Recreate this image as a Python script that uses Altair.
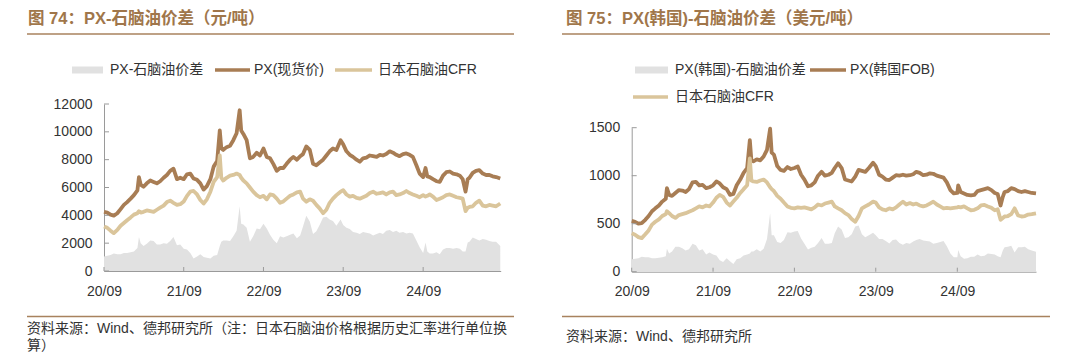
import altair as alt
import pandas as pd

# ---------------- data ----------------
dates_l = [
    "2020-09-01", "2020-09-16", "2020-10-01", "2020-10-16", "2020-11-01", "2020-11-16", "2020-12-01", "2020-12-16",
    "2021-01-01", "2021-01-16", "2021-02-01", "2021-02-08", "2021-02-16", "2021-03-01", "2021-03-16", "2021-04-01",
    "2021-04-16", "2021-05-01", "2021-05-16", "2021-06-01", "2021-06-16", "2021-07-01", "2021-07-16", "2021-08-01",
    "2021-08-16", "2021-09-01", "2021-09-16", "2021-10-01", "2021-10-16", "2021-11-01", "2021-11-16", "2021-12-01",
    "2021-12-16",
    "2022-01-01", "2022-01-16", "2022-02-01", "2022-02-13", "2022-02-20", "2022-03-01", "2022-03-16", "2022-04-01",
    "2022-04-16", "2022-05-01", "2022-05-15", "2022-05-22", "2022-06-01", "2022-06-16", "2022-07-01", "2022-07-16",
    "2022-08-01", "2022-08-16", "2022-09-01", "2022-09-16", "2022-10-01", "2022-10-16", "2022-11-01", "2022-11-16",
    "2022-12-01", "2022-12-16",
    "2023-01-01", "2023-01-16", "2023-02-01", "2023-02-16", "2023-03-01", "2023-03-16", "2023-04-01", "2023-04-16",
    "2023-05-01", "2023-05-16", "2023-06-01", "2023-06-16", "2023-07-01", "2023-07-16", "2023-08-01", "2023-08-20",
    "2023-09-01", "2023-09-16", "2023-10-01", "2023-10-16", "2023-11-01", "2023-11-16", "2023-12-01", "2023-12-16",
    "2024-01-01", "2024-01-16", "2024-02-01", "2024-02-16", "2024-03-01", "2024-03-16", "2024-04-01", "2024-04-16",
    "2024-05-01", "2024-05-16", "2024-06-01", "2024-06-16", "2024-07-01", "2024-07-16", "2024-08-01", "2024-08-16",
    "2024-09-01", "2024-09-12", "2024-09-20", "2024-10-01", "2024-10-16", "2024-11-01", "2024-11-16", "2024-12-01",
    "2024-12-16",
    "2025-01-01", "2025-01-16", "2025-02-01", "2025-02-16", "2025-03-01", "2025-03-14", "2025-03-24", "2025-04-01",
    "2025-04-16", "2025-05-01", "2025-05-16", "2025-06-01", "2025-06-16", "2025-07-01", "2025-07-16", "2025-08-01",
    "2025-08-20",
]
px_l = [
    4250, 4200, 4050, 3980, 4150, 4450, 4750, 4950,
    5200, 5450, 5800, 6750, 6200, 6050, 6300, 6500,
    6400, 6300, 6450, 6700, 6900, 7200, 7350, 6600,
    6700, 6600, 6950, 7000, 6650, 6550, 6300, 5850,
    6100,
    6600, 7500, 7900, 10100, 8800, 8700, 8900, 9000,
    9400, 9900, 11550, 10100, 9850, 9400, 8100, 8200,
    8500, 8300, 8800, 8200, 8100, 7700, 7200, 7400,
    7400, 7700,
    8000, 8200, 8000, 8250, 8400, 8950, 8700, 7700,
    7600, 7800, 8000, 8300, 8600, 8800, 8700, 9400,
    9100, 8600, 8350, 8200, 8000, 7850, 8100, 8150,
    8300, 8250, 8200, 8350, 8300, 8400, 8600, 8500,
    8350, 8250, 8400, 8450, 8350, 8200, 7600, 7000,
    6750, 7400, 6800, 6750, 6600, 6450, 6400, 6850,
    7100,
    7150, 7000, 6950, 6850, 6600, 5700, 6600, 6700,
    7050, 7200, 7250, 7000, 6900, 6900, 6800, 6750,
    6650,
]
nap_l = [
    3200, 3100, 2900, 2720, 2950, 3250, 3450, 3650,
    3850, 4050, 4150, 4300, 4200, 4250, 4350, 4300,
    4250, 4400, 4550, 4700, 4950, 5050, 4900, 4750,
    4800, 5000, 5400, 5700, 5750, 5500, 5100, 4850,
    5150,
    5700, 6400, 6750, 8300, 6700, 6500, 6700, 6850,
    6900, 7000, 6900, 6700, 6500, 6300, 6000, 5700,
    5450, 5300, 5400, 5150, 5500, 5450, 5200, 4900,
    5000, 5200,
    5400, 5500, 5650, 5700, 5200, 4980, 5150, 5050,
    4750, 4500, 4150, 4400, 4900, 5200, 5450, 5700,
    5800, 5500, 5340, 5400, 5250, 5200, 5300, 5400,
    5600, 5700, 5550, 5600, 5650, 5500, 5650, 5700,
    5450, 5500, 5600, 5750, 5600, 5500, 5400, 5300,
    5450, 5350, 5400, 5500, 5350, 5100, 5200, 5300,
    5450,
    5500, 5400, 5300, 5250, 5200, 4300, 4550, 4600,
    4650, 4900, 5050, 4700, 4650, 4750, 4700, 4650,
    4850,
]

dates_r = [
    "2020-09-01", "2020-09-16", "2020-10-01", "2020-10-16", "2020-11-01", "2020-11-16", "2020-12-01", "2020-12-16",
    "2021-01-01", "2021-01-16", "2021-02-01", "2021-02-06", "2021-02-16", "2021-03-01", "2021-03-16", "2021-04-01",
    "2021-04-16", "2021-05-01", "2021-05-16", "2021-06-01", "2021-06-16", "2021-07-01", "2021-07-16", "2021-08-01",
    "2021-08-16", "2021-09-01", "2021-09-16", "2021-10-01", "2021-10-16", "2021-11-01", "2021-11-16", "2021-12-01",
    "2021-12-16",
    "2022-01-01", "2022-01-16", "2022-02-01", "2022-02-13", "2022-02-20", "2022-03-01", "2022-03-16", "2022-04-01",
    "2022-04-16", "2022-05-01", "2022-05-15", "2022-05-22", "2022-06-01", "2022-06-16", "2022-07-01", "2022-07-16",
    "2022-08-01", "2022-08-16", "2022-09-01", "2022-09-16", "2022-10-01", "2022-10-16", "2022-11-01", "2022-11-16",
    "2022-12-01", "2022-12-16",
    "2023-01-01", "2023-01-16", "2023-02-01", "2023-02-16", "2023-03-01", "2023-03-16", "2023-04-01", "2023-04-16",
    "2023-05-01", "2023-05-16", "2023-06-01", "2023-06-16", "2023-07-01", "2023-07-16", "2023-08-01", "2023-08-20",
    "2023-09-01", "2023-09-16", "2023-10-01", "2023-10-16", "2023-11-01", "2023-11-16", "2023-12-01", "2023-12-16",
    "2024-01-01", "2024-01-16", "2024-02-01", "2024-02-16", "2024-03-01", "2024-03-16", "2024-04-01", "2024-04-16",
    "2024-05-01", "2024-05-16", "2024-06-01", "2024-06-16", "2024-07-01", "2024-07-16", "2024-08-01", "2024-08-16",
    "2024-09-01", "2024-09-05", "2024-09-16", "2024-10-01", "2024-10-16", "2024-11-01", "2024-11-16", "2024-12-01",
    "2024-12-16",
    "2025-01-01", "2025-01-16", "2025-02-01", "2025-02-16", "2025-03-01", "2025-03-14", "2025-03-24", "2025-04-01",
    "2025-04-16", "2025-05-01", "2025-05-16", "2025-06-01", "2025-06-16", "2025-07-01", "2025-07-16", "2025-08-01",
    "2025-08-20",
]
px_r = [
    530, 520, 500, 505, 540, 580, 630, 660,
    690, 730, 760, 870, 800, 790, 820, 850,
    845, 830, 860, 930, 935, 900, 905, 870,
    880, 900, 940, 920, 880, 860, 800, 810,
    900,
    960, 1030, 1080, 1370, 1160, 1150, 1170, 1160,
    1200, 1270, 1490, 1240, 1220, 1100, 1060, 1050,
    1090, 1070, 1080, 1095, 1010, 960, 890, 900,
    930, 1000,
    1040, 1000, 1010, 1030, 1080, 1130, 1080, 960,
    950, 940, 990, 1060, 1050, 1040, 1080, 1135,
    1100, 1010, 990, 960, 955, 980, 1005, 1000,
    1010, 1000, 1005, 1015, 1040, 1030, 1005, 1010,
    1025, 1020, 1000, 990, 980, 930, 850, 815,
    820, 900, 830, 815, 800, 795, 800, 840,
    850,
    860, 870, 850, 820, 810, 690, 780, 830,
    840, 870, 860, 840, 830, 840, 830, 820,
    815,
]
nap_r = [
    400, 385, 360, 350, 390, 430, 490, 520,
    545, 580, 600, 630, 610, 580, 560, 590,
    600, 610, 625, 640, 660, 680, 670, 690,
    680, 720, 770, 800, 780, 720, 690, 730,
    770,
    820, 860, 900, 1180, 950, 940, 935, 950,
    960, 930, 880, 860, 840, 790, 760, 720,
    680, 665, 660, 670, 665, 670, 660, 650,
    670, 700,
    690, 710, 720, 730, 680, 660, 640, 610,
    590, 550, 520, 580, 660, 680, 700, 730,
    720, 670, 650, 640, 660, 650, 670, 700,
    730, 700, 715, 700, 710, 690, 680, 690,
    710, 730, 700, 680, 660, 665, 660, 665,
    670, 675, 670, 680, 660, 640, 645, 660,
    690,
    695, 680, 665, 640, 650, 540, 560, 575,
    580, 600, 660, 585, 575, 580, 595, 600,
    608,
]

xticks = ["2020-09-01", "2021-09-01", "2022-09-01", "2023-09-01", "2024-09-01"]
yticks_l = [0, 2000, 4000, 6000, 8000, 10000, 12000]
yticks_r = [0, 500, 1000, 1500]

title_l = "图 74：PX-石脑油价差（元/吨）"
title_r = "图 75：PX(韩国)-石脑油价差（美元/吨）"
leg_l = ["PX-石脑油价差", "PX(现货价)", "日本石脑油CFR"]
leg_r = ["PX(韩国)-石脑油价差", "PX(韩国FOB)", "日本石脑油CFR"]
src_l = ["资料来源：Wind、德邦研究所（注：日本石脑油价格根据历史汇率进行单位换", "算）"]
src_r = "资料来源：Wind、德邦研究所"

# ---------------- styling ----------------
W, H = 1080, 353
FONT = "Liberation Sans, Noto Sans CJK SC"
BROWN = "#A87D54"
TAN = "#DAC59B"
GREY = "#E1E1E1"
TITLE_C = "#A0764A"
RULE_C = "#A8825E"
AXIS_C = "#9A9A9A"
TEXT_C = "#333333"
LW = 3.8

dummy = pd.DataFrame({"t": [""]})


def dt(s):
    y, m, d = map(int, s.split("-"))
    return alt.DateTime(year=y, month=m, date=d, utc=True)


def make_df(dates, px, nap):
    df = pd.DataFrame({"date": dates, "px": px, "nap": nap})
    df["spread"] = df["px"] - df["nap"]
    return df


def panel(df, x0, x1, x_end, yb, yt, ymax, yticks):
    xs = alt.Scale(type="utc", domain=[dt("2020-09-01"), dt(x_end)], range=[x0, x1])
    ys = alt.Scale(domain=[0, ymax], range=[yb, yt], zero=False, nice=False)
    xaxis = alt.Axis(orient="bottom", offset=yb - H, values=[dt(s) for s in xticks],
                     format="%y/%m", ticks=False, labelPadding=13, labelFlush=False,
                     domainColor=AXIS_C, domainWidth=1, labelFont=FONT, labelFontSize=14,
                     labelColor=TEXT_C, grid=False, title=None, labelOverlap=False)
    yaxis = alt.Axis(orient="left", offset=-x0, values=yticks, format="d", ticks=False,
                     labelPadding=12, domainColor=AXIS_C, domainWidth=1, labelFont=FONT,
                     labelFontSize=14, labelColor=TEXT_C, grid=False, title=None,
                     labelOverlap=False)
    area = alt.Chart(df).mark_area(color=GREY).encode(
        x=alt.X("date:T", scale=xs, axis=xaxis),
        y=alt.Y("spread:Q", scale=ys, axis=yaxis),
        y2=alt.datum(0),
    )
    line_px = alt.Chart(df).mark_line(color=BROWN, strokeWidth=LW, strokeJoin="round").encode(
        x=alt.X("date:T", scale=xs, axis=None),
        y=alt.Y("px:Q", scale=ys, axis=None),
    )
    line_nap = alt.Chart(df).mark_line(color=TAN, strokeWidth=LW, strokeJoin="round").encode(
        x=alt.X("date:T", scale=xs, axis=None),
        y=alt.Y("nap:Q", scale=ys, axis=None),
    )
    xt = alt.Chart(pd.DataFrame({"d": xticks})).mark_rule(color=AXIS_C, strokeWidth=1).encode(
        x=alt.X("d:T", scale=xs, axis=None), y=alt.value(yb - 4), y2=alt.value(yb))
    yt_ = alt.Chart(pd.DataFrame({"v": yticks})).mark_rule(color=AXIS_C, strokeWidth=1).encode(
        y=alt.Y("v:Q", scale=ys, axis=None), x=alt.value(x0), x2=alt.value(x0 + 5))
    return [area, line_px, line_nap, xt, yt_]


def txt(s, x, y, size=14, color=TEXT_C, weight="normal"):
    return alt.Chart(pd.DataFrame({"t": [s]})).mark_text(
        align="left", baseline="middle", fontSize=size, font=FONT, color=color, fontWeight=weight
    ).encode(text="t:N", x=alt.value(x), y=alt.value(y))


def hrule(xa, xb, y, color, w):
    return alt.Chart(dummy).mark_rule(color=color, strokeWidth=w).encode(
        x=alt.value(xa), x2=alt.value(xb), y=alt.value(y))


def rect(xa, xb, ya, yb, color):
    return alt.Chart(dummy).mark_rect(color=color).encode(
        x=alt.value(xa), x2=alt.value(xb), y=alt.value(ya), y2=alt.value(yb))


df_l = make_df(dates_l, px_l, nap_l)
df_r = make_df(dates_r, px_r, nap_r)

layers = []
layers += panel(df_l, 104, 500.7, "2025-08-22", 271, 104, 12000, yticks_l)
layers += panel(df_r, 631.7, 1036, "2025-08-20", 271.7, 127.7, 1500, yticks_r)

# left decorations
layers += [
    txt(title_l, 28, 19, size=16.5, color=TITLE_C, weight="bold"),
    hrule(27, 514, 34, RULE_C, 1.6),
    rect(72, 103, 66.5, 73.5, GREY), txt(leg_l[0], 110, 70),
    hrule(215, 250, 70, BROWN, 3.5), txt(leg_l[1], 254, 70),
    hrule(335, 372, 70, TAN, 3.5), txt(leg_l[2], 378, 70),
    hrule(27, 514, 316.5, RULE_C, 1.6),
    txt(src_l[0], 27, 329), txt(src_l[1], 27, 346),
]
# right decorations
layers += [
    txt(title_r, 566, 19, size=16.5, color=TITLE_C, weight="bold"),
    hrule(562, 1050, 34, RULE_C, 1.6),
    rect(635, 668, 66.5, 73.5, GREY), txt(leg_r[0], 675, 70),
    hrule(810, 846, 70, BROWN, 3.5), txt(leg_r[1], 850, 70),
    hrule(633, 668, 97, TAN, 3.5), txt(leg_r[2], 675, 97),
    hrule(562, 1050, 316.5, RULE_C, 1.6),
    txt(src_r, 566, 337),
]

chart = alt.layer(*layers).resolve_scale(x="independent", y="independent").properties(
    width=W, height=H, padding=0, autosize=alt.AutoSizeParams(type="none"), background="white"
).configure_view(stroke=None)

chart.save("out.html", embed_options={"renderer": "svg", "actions": False})
